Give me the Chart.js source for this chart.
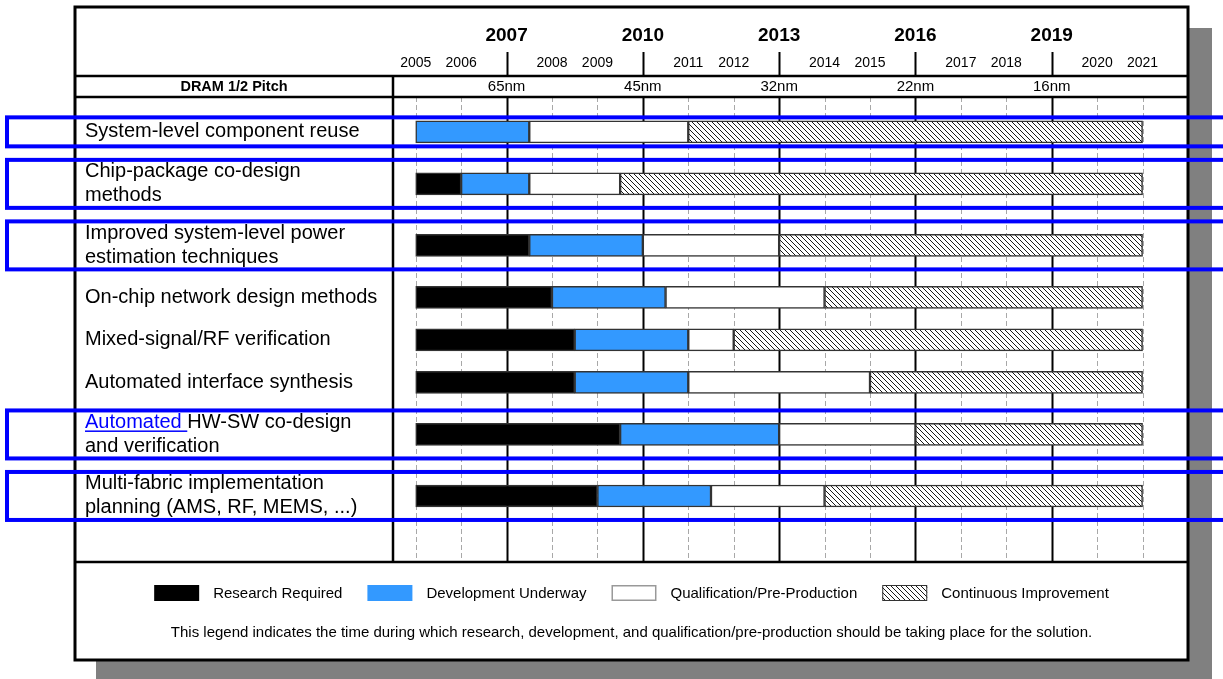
<!DOCTYPE html>
<html>
<head>
<meta charset="utf-8">
<title>Design technology roadmap</title>
<script src="https://cdn.jsdelivr.net/npm/chart.js@4/dist/chart.umd.min.js"></script>
<style>
  html, body { margin: 0; padding: 0; background: #fff; }
  canvas { display: block; }
</style>
</head>
<body>
<canvas id="roadmap" width="1223" height="679"></canvas>
<script>
// rows of the roadmap, one array entry per text line
const rowLabels = [
  ["System-level component reuse"],
  ["Chip-package co-design", "methods"],
  ["Improved system-level power", "estimation techniques"],
  ["On-chip network design methods"],
  ["Mixed-signal/RF verification"],
  ["Automated interface synthesis"],
  ["Automated HW-SW co-design", "and verification"],
  ["Multi-fabric implementation", "planning (AMS, RF, MEMS, ...)"]
];

// [start, end] year of each phase, per row (null = no such phase)
const research = [null, [2005, 2006], [2005, 2007.5], [2005, 2008], [2005, 2008.5], [2005, 2008.5], [2005, 2009.5], [2005, 2009]];
const development = [[2005, 2007.5], [2006, 2007.5], [2007.5, 2010], [2008, 2010.5], [2008.5, 2011], [2008.5, 2011], [2009.5, 2013], [2009, 2011.5]];
const qualification = [[2007.5, 2011], [2007.5, 2009.5], [2010, 2013], [2010.5, 2014], [2011, 2012], [2011, 2015], [2013, 2016], [2011.5, 2014]];
const improvement = [[2011, 2021], [2009.5, 2021], [2013, 2021], [2014, 2021], [2012, 2021], [2015, 2021], [2016, 2021], [2014, 2021]];

const years = [2005, 2006, 2007, 2008, 2009, 2010, 2011, 2012, 2013, 2014, 2015, 2016, 2017, 2018, 2019, 2020, 2021];
const majorYears = [2007, 2010, 2013, 2016, 2019];
const dramPitch = ["65nm", "45nm", "32nm", "22nm", "16nm"];

const phaseNames = ["Research Required", "Development Underway", "Qualification/Pre-Production", "Continuous Improvement"];
const footnote = "This legend indicates the time during which research, development, and qualification/pre-production should be taking place for the solution.";
const highlightedRows = [0, 1, 2, 6, 7];
const linkWord = { row: 6, text: "Automated " };

const FONT = "'Liberation Sans', Arial, Helvetica, sans-serif";
const BLUE = "#3399ff";

// two-line rows are taller than one-line rows
const rowWeight = rowLabels.map(l => (l.length > 1 ? 1.447 : 1));
const rowCenters = [];
let acc = 0;
rowWeight.forEach(w => { rowCenters.push(acc + w / 2); acc += w; });

const canvas = document.getElementById("roadmap");
const ctx = canvas.getContext("2d");

function makeHatch() {
  const c = document.createElement("canvas");
  c.width = 5; c.height = 5;
  const g = c.getContext("2d");
  g.fillStyle = "#fff";
  g.fillRect(0, 0, 5, 5);
  g.strokeStyle = "#000";
  g.lineWidth = 0.9;
  g.beginPath();
  for (let k = -1; k <= 1; k++) { g.moveTo(0, k * 5); g.lineTo(5, 5 + k * 5); }
  g.stroke();
  return ctx.createPattern(c, "repeat");
}
const hatch = makeHatch();
const phaseFills = ["#000000", BLUE, "#ffffff", hatch];

function toBars(spans) {
  return spans.map((s, i) => s && { x: s, y: rowCenters[i] }).filter(Boolean);
}

const frame = { left: 75, top: 7, right: 1188, bottom: 660 };

const roadmapPlugin = {
  id: "roadmap",
  beforeDraw(chart) {
    const c = chart.ctx, x = chart.scales.x, area = chart.chartArea;
    c.save();
    c.fillStyle = "#fff";
    c.fillRect(0, 0, chart.width, chart.height);
    c.fillStyle = "#808080";
    c.fillRect(frame.left + 21, frame.top + 21, frame.right - frame.left + 3, frame.bottom - frame.top + 2);
    c.fillStyle = "#fff";
    c.fillRect(frame.left, frame.top, frame.right - frame.left, frame.bottom - frame.top);

    // year grid
    years.forEach(yr => {
      const px = Math.round(x.getPixelForValue(yr)) + 0.5;
      c.beginPath();
      if (majorYears.includes(yr)) {
        c.strokeStyle = "#000"; c.lineWidth = 2; c.setLineDash([]);
        c.moveTo(px, 52); c.lineTo(px, 76);
        c.moveTo(px, area.top); c.lineTo(px, area.bottom);
      } else {
        c.strokeStyle = "#a8a8a8"; c.lineWidth = 1; c.setLineDash([5, 3]);
        c.moveTo(px, area.top); c.lineTo(px, area.bottom);
      }
      c.stroke();
    });
    c.restore();
  },
  afterDraw(chart) {
    const c = chart.ctx, x = chart.scales.x, y = chart.scales.y, area = chart.chartArea;
    c.save();
    c.setLineDash([]);
    c.strokeStyle = "#000";

    // table lines
    c.lineWidth = 2.5;
    c.beginPath();
    [76, area.top, area.bottom].forEach(ly => { c.moveTo(frame.left, ly); c.lineTo(frame.right, ly); });
    c.moveTo(area.left, 76); c.lineTo(area.left, area.bottom);
    c.stroke();
    c.lineWidth = 3;
    c.strokeRect(frame.left, frame.top, frame.right - frame.left, frame.bottom - frame.top);

    // header
    c.fillStyle = "#000";
    c.textAlign = "center";
    c.textBaseline = "middle";
    years.forEach(yr => {
      const px = x.getPixelForValue(yr);
      if (majorYears.includes(yr)) {
        c.font = "bold 19px " + FONT;
        c.fillText(String(yr), px, 36);
      } else {
        c.font = "14px " + FONT;
        c.fillText(String(yr), px, 63.5);
      }
    });
    c.font = "15px " + FONT;
    majorYears.forEach((yr, i) => c.fillText(dramPitch[i], x.getPixelForValue(yr), 87));
    c.font = "bold 14.5px " + FONT;
    c.fillText("DRAM 1/2 Pitch", (frame.left + area.left) / 2, 87);

    // row labels
    c.textAlign = "left";
    c.font = "20px " + FONT;
    rowLabels.forEach((lines, i) => {
      const cy = y.getPixelForValue(rowCenters[i]);
      lines.forEach((line, j) => {
        const ly = cy + (j - (lines.length - 1) / 2) * 24;
        let tx = 85;
        let rest = line;
        if (i === linkWord.row && j === 0 && line.startsWith(linkWord.text)) {
          const w = c.measureText(linkWord.text).width;
          c.fillStyle = "#0000ff";
          c.fillText(linkWord.text, tx, ly);
          c.fillRect(tx, ly + 8, w, 1.5);
          tx += w;
          rest = line.slice(linkWord.text.length);
        }
        c.fillStyle = "#000";
        c.fillText(rest, tx, ly);
      });
    });

    // legend
    c.font = "15px " + FONT;
    const sw = 45, sh = 16, gap = 14, itemGap = 25;
    const widths = phaseNames.map(n => sw + gap + c.measureText(n).width);
    const total = widths.reduce((a, b) => a + b, 0) + itemGap * (phaseNames.length - 1);
    let lx = (frame.left + frame.right) / 2 - total / 2;
    const ly = 593;
    phaseNames.forEach((n, i) => {
      c.fillStyle = phaseFills[i];
      c.fillRect(lx, ly - sh / 2, sw, sh);
      if (i === 2) { c.strokeStyle = "#999"; c.lineWidth = 1.5; c.strokeRect(lx + 0.75, ly - sh / 2 + 0.75, sw - 1.5, sh - 1.5); }
      if (i === 3) { c.strokeStyle = "#333"; c.lineWidth = 1; c.strokeRect(lx + 0.5, ly - sh / 2 + 0.5, sw - 1, sh - 1); }
      c.fillStyle = "#000";
      c.fillText(n, lx + sw + gap, ly + 1);
      lx += widths[i] + itemGap;
    });
    c.textAlign = "center";
    c.font = "15px " + FONT;
    c.fillText(footnote, (frame.left + frame.right) / 2, 633);

    // highlighted rows
    c.strokeStyle = "#0000ff";
    c.lineWidth = 4;
    highlightedRows.forEach(i => {
      const cy = y.getPixelForValue(rowCenters[i]);
      const half = 5 + 9.5 * rowLabels[i].length;
      c.strokeRect(7, cy - half, chart.width + 20, half * 2);
    });
    c.restore();
  }
};

const phases = [research, development, qualification, improvement];

new Chart(canvas, {
  type: "bar",
  data: {
    datasets: phases.map((spans, i) => ({
      label: phaseNames[i],
      data: toBars(spans),
      backgroundColor: phaseFills[i],
      borderColor: "#333",
      borderWidth: 1.5,
      borderSkipped: false,
      barThickness: 22,
      grouped: false
    }))
  },
  options: {
    indexAxis: "y",
    responsive: false,
    animation: false,
    events: [],
    layout: { padding: { left: 393, right: 35, top: 97, bottom: 117 } },
    scales: {
      x: { type: "linear", min: 2004.5, max: 2022, offset: false, display: false },
      y: { type: "linear", min: -0.32, max: acc + 0.83, reverse: true, offset: false, display: false }
    },
    plugins: {
      legend: { display: false },
      tooltip: { enabled: false }
    }
  },
  plugins: [roadmapPlugin]
});
</script>
</body>
</html>
